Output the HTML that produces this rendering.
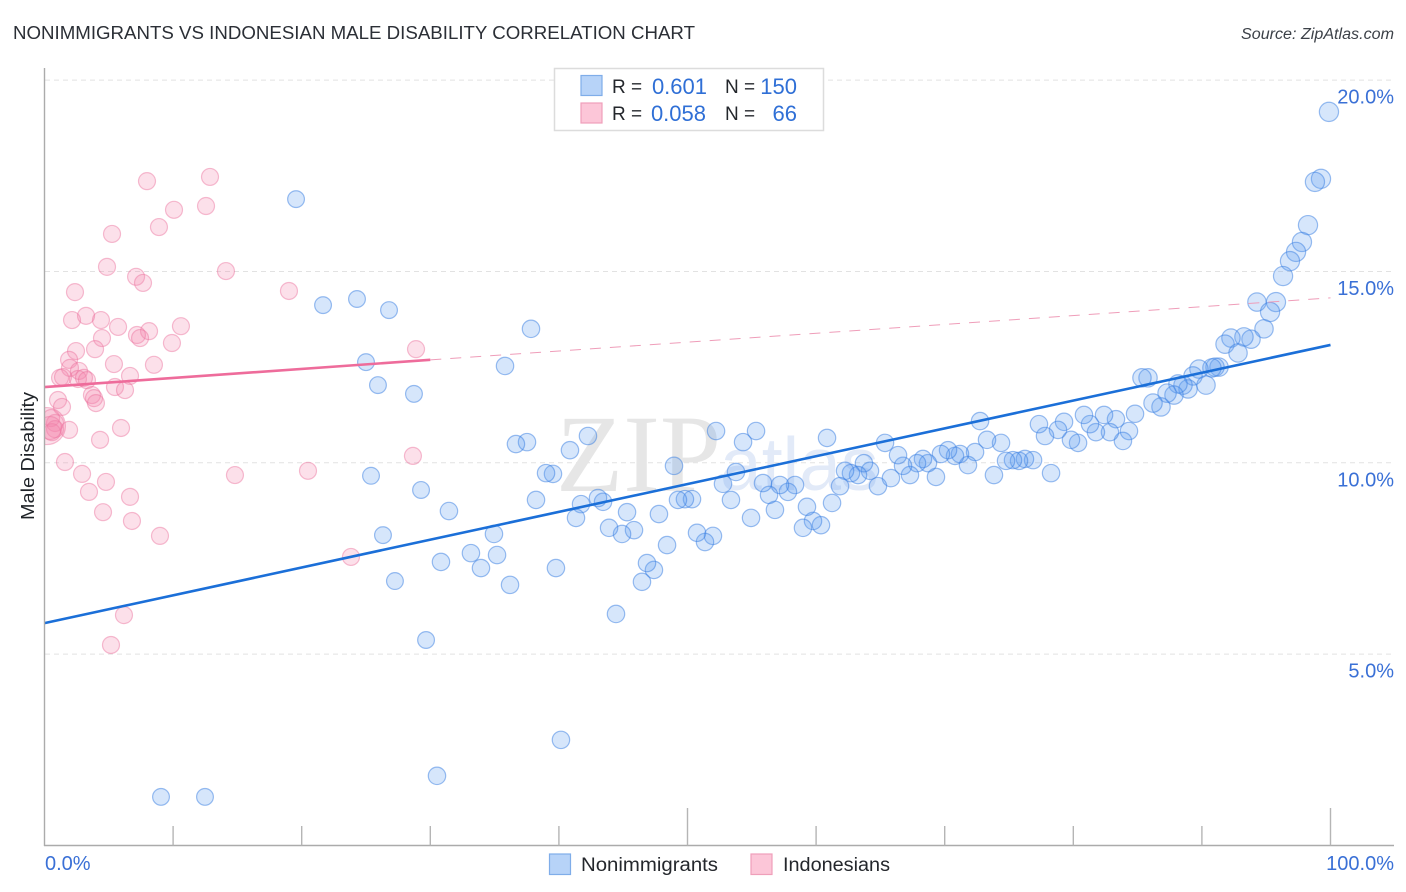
<!DOCTYPE html>
<html lang="en">
<head>
<meta charset="utf-8">
<title>Nonimmigrants vs Indonesian Male Disability Correlation Chart</title>
<style>
html,body{margin:0;padding:0;background:#fff;}
body{width:1406px;height:892px;overflow:hidden;font-family:"Liberation Sans",sans-serif;}
svg{display:block;}
text{font-family:"Liberation Sans",sans-serif;}
</style>
</head>
<body>
<svg id="chart" xmlns="http://www.w3.org/2000/svg" width="1406" height="892" viewBox="0 0 1406 892">
  <defs>
    <clipPath id="plot-clip"><rect x="45" y="60" width="1349" height="786"/></clipPath>
  </defs>
  <text x="13" y="39" font-size="18.5" fill="#2b2f36" textLength="682" lengthAdjust="spacingAndGlyphs">NONIMMIGRANTS VS INDONESIAN MALE DISABILITY CORRELATION CHART</text>
  <text x="1394" y="39" font-size="15.5" font-style="italic" fill="#3c4148" text-anchor="end" textLength="153" lengthAdjust="spacingAndGlyphs">Source: ZipAtlas.com</text>
  <g id="grid"></g>
  <text x="556" y="491" font-size="110" fill="#e6e6e6" style="font-family:'Liberation Serif',serif">ZIP</text>
  <text x="720" y="490" font-size="75" fill="#e2eaf8">atlas</text>
  <g id="points-blue" clip-path="url(#plot-clip)"></g>
  <g id="points-pink" clip-path="url(#plot-clip)"></g>
  <g id="lines"></g>
  <g id="axes"></g>
  <text transform="translate(34,456) rotate(-90)" font-size="18.5" fill="#1f2328" text-anchor="middle" textLength="128" lengthAdjust="spacingAndGlyphs">Male Disability</text>

  <g>
    <rect x="554.5" y="68.5" width="269" height="62" fill="#fff" stroke="#dcdcdc" stroke-width="1.5"/>
    <rect x="581" y="75.5" width="21" height="20" fill="#b7d3f8" stroke="#7fade9" stroke-width="1.2"/>
    <rect x="581" y="103" width="21" height="20" fill="#fcc6d8" stroke="#ef9fba" stroke-width="1.2"/>
    <text x="612" y="93" font-size="19" fill="#24272c">R =</text>
    <text x="707" y="94" font-size="22" fill="#2f6fd6" text-anchor="end">0.601</text>
    <text x="725" y="93" font-size="19" fill="#24272c">N =</text>
    <text x="797" y="94" font-size="22" fill="#2f6fd6" text-anchor="end">150</text>
    <text x="612" y="120" font-size="19" fill="#24272c">R =</text>
    <text x="706" y="121" font-size="22" fill="#2f6fd6" text-anchor="end">0.058</text>
    <text x="725" y="120" font-size="19" fill="#24272c">N =</text>
    <text x="797" y="121" font-size="22" fill="#2f6fd6" text-anchor="end">66</text>
  </g>

  <g>
    <rect x="549.5" y="854" width="21" height="20.5" fill="#b7d3f8" stroke="#7fade9" stroke-width="1.2"/>
    <text x="581" y="871" font-size="19" fill="#24272c" textLength="137" lengthAdjust="spacingAndGlyphs">Nonimmigrants</text>
    <rect x="751" y="854" width="21" height="20.5" fill="#fcc6d8" stroke="#ef9fba" stroke-width="1.2"/>
    <text x="783" y="871" font-size="19" fill="#24272c" textLength="107" lengthAdjust="spacingAndGlyphs">Indonesians</text>
  </g>
</svg>
<script>
const xTickValues = [10, 20, 30, 40, 50, 60, 70, 80, 90, 100];
const xMajorTicks = [50, 100];
const yGridValues = [5, 10, 15, 20];
const yTickLabels = ["5.0%", "10.0%", "15.0%", "20.0%"];
const xEndLabels = ["0.0%", "100.0%"];

// Nonimmigrants: [share %, male disability %]
const nonimmigrantPoints = [
[99.88,19.17],[99.26,17.42],[98.79,17.34],[98.25,16.21],[97.78,15.77],[97.32,15.51],[96.85,15.27],[96.31,14.88],[95.76,14.20],[94.28,14.20],
[95.30,13.94],[94.83,13.50],[93.82,13.23],[93.27,13.29],[92.26,13.26],[91.80,13.10],[92.81,12.87],[91.33,12.50],[91.02,12.50],[90.78,12.48],
[89.77,12.45],[89.31,12.27],[90.32,12.03],[88.92,11.93],[88.53,12.03],[88.14,12.06],[87.83,11.77],[87.29,11.82],[86.82,11.46],[86.20,11.56],
[85.81,12.22],[85.34,12.22],[84.80,11.28],[84.33,10.83],[83.86,10.57],[83.32,11.14],[82.85,10.80],[82.39,11.25],[81.76,10.80],[81.30,11.01],
[80.83,11.25],[80.37,10.52],[79.82,10.60],[79.28,11.07],[78.81,10.86],[77.80,10.70],[77.33,11.01],[78.27,9.73],[76.87,10.07],[76.24,10.10],
[75.78,10.05],[75.31,10.07],[74.77,10.05],[74.38,10.52],[73.83,9.68],[73.29,10.60],[72.75,11.09],[72.36,10.28],[71.81,9.94],[71.19,10.23],
[70.80,10.18],[70.26,10.33],[69.71,10.23],[69.32,9.63],[68.70,9.99],[68.31,10.10],[67.85,9.99],[67.30,9.68],[66.76,9.92],[66.37,10.20],
[65.82,9.60],[65.36,10.52],[64.81,9.39],[64.19,9.79],[63.72,9.99],[63.26,9.68],[62.71,9.73],[62.25,9.79],[61.86,9.39],[61.24,8.95],
[60.85,10.65],[60.38,8.37],[59.76,8.48],[59.29,8.85],[58.98,8.30],[58.36,9.42],[57.81,9.24],[57.19,9.42],[56.80,8.77],[56.34,9.16],
[55.87,9.47],[55.33,10.83],[54.94,8.56],[54.32,10.54],[53.77,9.76],[53.38,9.03],[52.76,9.45],[52.22,10.83],[51.98,8.09],[51.36,7.93],
[50.74,8.17],[50.35,9.05],[49.80,9.05],[49.26,9.03],[48.95,9.92],[48.41,7.85],[47.78,8.66],[47.39,7.20],[46.85,7.38],[46.46,6.89],
[45.84,8.24],[45.30,8.71],[44.91,8.14],[44.44,6.05],[43.90,8.30],[43.43,8.98],[43.04,9.08],[42.26,10.70],[41.72,8.92],[41.33,8.56],
[40.86,10.33],[39.77,7.25],[40.16,2.76],[39.54,9.71],[39.00,9.73],[38.22,9.03],[37.52,10.54],[36.66,10.49],[36.20,6.81],[35.81,12.53],
[37.83,13.50],[35.19,7.59],[34.95,8.14],[33.94,7.25],[33.16,7.64],[31.45,8.74],[30.83,7.41],[30.52,1.82],[29.67,5.37],[29.28,9.29],
[28.73,11.80],[27.25,6.91],[26.79,13.99],[26.32,8.11],[25.93,12.03],[25.39,9.66],[25.00,12.63],[24.30,14.28],[21.66,14.12],[19.56,16.89],
[12.48,1.27],[9.06,1.27]
];

// Indonesians: [share %, male disability %]
const indonesianPoints = [
[7.97,17.36],[12.87,17.47],[10.07,16.61],[12.56,16.71],[8.90,16.16],[5.25,15.98],[4.86,15.12],[14.11,15.01],[7.12,14.86],[7.66,14.70],
[19.01,14.49],[2.37,14.46],[4.39,13.73],[2.14,13.73],[3.23,13.84],[5.72,13.55],[10.61,13.57],[8.13,13.44],[7.19,13.34],[7.43,13.26],
[9.91,13.13],[4.47,13.26],[3.93,12.97],[2.45,12.92],[28.89,12.97],[1.91,12.69],[5.40,12.58],[8.51,12.56],[1.98,12.48],[2.68,12.40],
[1.21,12.22],[1.44,12.24],[2.60,12.19],[3.07,12.22],[3.30,12.16],[6.65,12.27],[5.48,11.98],[6.26,11.90],[3.69,11.77],[3.85,11.69],
[4.00,11.56],[1.05,11.64],[1.36,11.46],[5.95,10.91],[4.32,10.60],[1.91,10.86],[1.59,10.02],[2.92,9.71],[4.78,9.50],[3.46,9.24],
[6.65,9.11],[4.55,8.71],[6.80,8.48],[8.98,8.09],[14.81,9.68],[20.49,9.79],[28.65,10.18],[23.83,7.54],[6.18,6.02],[5.17,5.24],
[0.51,11.17],[0.82,11.04],[0.82,10.88],[0.58,10.80],[0.43,10.91],[0.19,10.96]
];

// Trend line endpoints: [share %, male disability %]
const nonimmigrantTrend = [[0, 5.81], [100, 13.08]];
const indonesianTrendSolid = [[0, 11.98], [30, 12.69]];
const indonesianTrendDashed = [[30, 12.69], [100, 14.31]];

const SVG_NS = "http://www.w3.org/2000/svg";
function xScale(v) { return 44.5 + v * 12.86; }
function yScale(v) { return 845.5 - v * 38.27; }

function make(tag, attrs, parent) {
  const el = document.createElementNS(SVG_NS, tag);
  for (const k in attrs) el.setAttribute(k, attrs[k]);
  parent.appendChild(el);
  return el;
}

const gridGroup = document.getElementById("grid");
yGridValues.forEach(function (v) {
  const l = make("line", {x1: 45, x2: 1394, y1: yScale(v), y2: yScale(v), stroke: "#e2e2e2", "stroke-width": 1, "stroke-dasharray": "5 4"}, gridGroup);
  
  
});

function blueRadius(x) { return x > 95 ? 9.6 : (x > 85 ? 9.2 : (x > 30 ? 8.7 : 8.4)); }
const blueGroup = document.getElementById("points-blue");
nonimmigrantPoints.forEach(function (p) {
  const c = make("circle", {cx: xScale(p[0]), cy: yScale(p[1]), r: blueRadius(p[0]), fill: "rgba(92,155,238,0.25)", stroke: "rgba(55,125,225,0.5)", "stroke-width": 1.2}, blueGroup);
  
  
});

function pinkRadius(x) { return x < 0.3 ? 18.5 : (x < 0.5 ? 11.5 : 8.5); }
const pinkGroup = document.getElementById("points-pink");
indonesianPoints.forEach(function (p) {
  const c = make("circle", {cx: xScale(p[0]), cy: yScale(p[1]), r: pinkRadius(p[0]), fill: "rgba(243,130,170,0.25)", stroke: "rgba(235,110,155,0.45)", "stroke-width": 1.2}, pinkGroup);
  
  
});

const lineGroup = document.getElementById("lines");
function trend(seg, attrs) {
  return make("line", Object.assign({x1: xScale(seg[0][0]), y1: yScale(seg[0][1]), x2: xScale(seg[1][0]), y2: yScale(seg[1][1])}, attrs), lineGroup);
}
const blueTrend = trend(nonimmigrantTrend, {stroke: "#1b6fd8", "stroke-width": 2.6});


const pinkSolid = trend(indonesianTrendSolid, {stroke: "#ee6c9b", "stroke-width": 2.6});


const pinkDash = trend(indonesianTrendDashed, {stroke: "#ef9db9", "stroke-width": 1, "stroke-dasharray": "11 9"});



const axesGroup = document.getElementById("axes");
const yAxisLine = make("line", {x1: 44.5, x2: 44.5, y1: 68, y2: 846, stroke: "#ababab", "stroke-width": 1.4}, axesGroup);


const xAxisLine = make("line", {x1: 44, x2: 1394, y1: 845.5, y2: 845.5, stroke: "#ababab", "stroke-width": 1.4}, axesGroup);



xTickValues.forEach(function (v) {
  const major = xMajorTicks.indexOf(v) >= 0;
  const t = make("line", {x1: xScale(v), x2: xScale(v), y1: major ? 808 : 826, y2: 845.5, stroke: "#b5b5b5", "stroke-width": 1.4}, axesGroup);
  
  
});

yGridValues.forEach(function (v, i) {
  const t = make("text", {x: 1394, y: yScale(v) + 23.5, "font-size": 20, fill: "#3a70d6", "text-anchor": "end"}, axesGroup);
  t.textContent = yTickLabels[i];
  
  
});

const xStart = make("text", {x: 45, y: 870, "font-size": 20, fill: "#3a70d6"}, axesGroup);
xStart.textContent = xEndLabels[0];


const xEnd = make("text", {x: 1394, y: 870, "font-size": 20, fill: "#3a70d6", "text-anchor": "end"}, axesGroup);
xEnd.textContent = xEndLabels[1];


</script>
</body>
</html>
